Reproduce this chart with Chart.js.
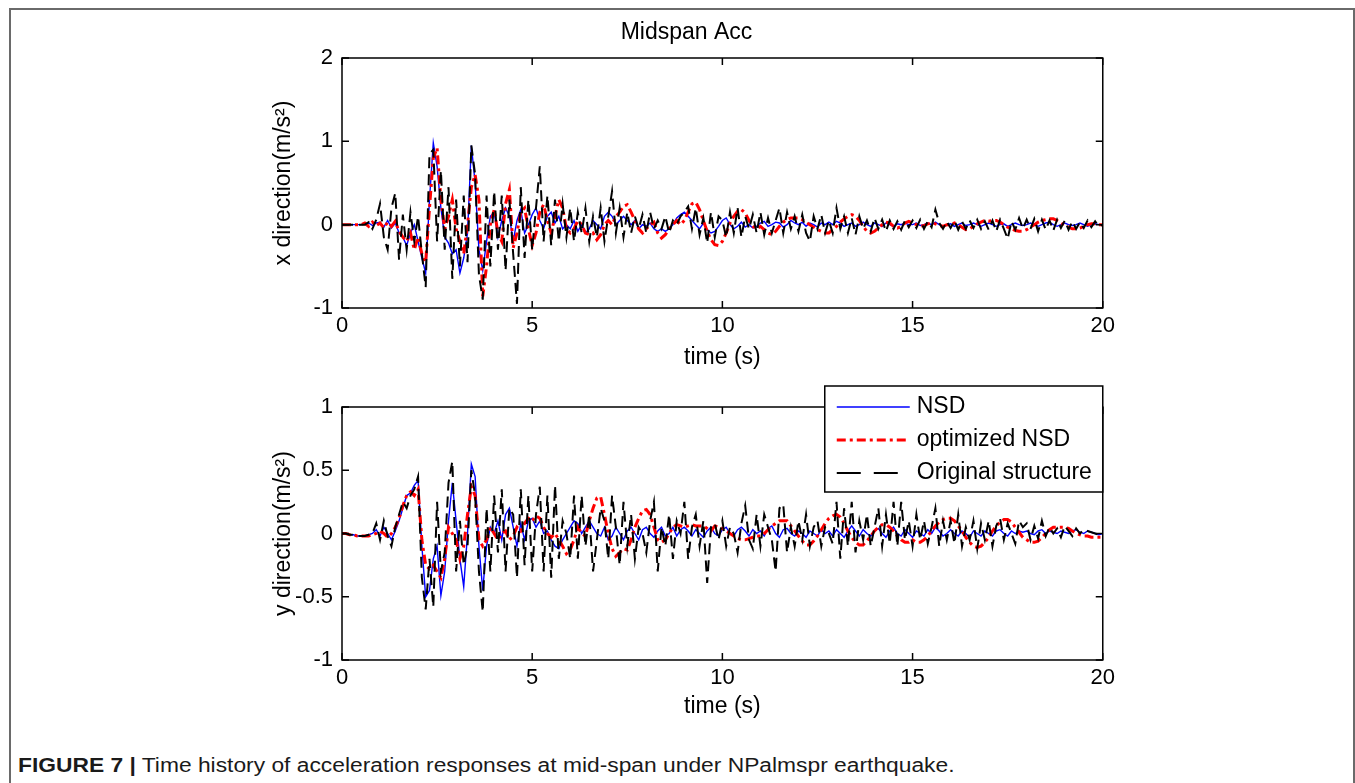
<!DOCTYPE html>
<html>
<head>
<meta charset="utf-8">
<script src="https://cdn.jsdelivr.net/npm/chart.js@4.4.0/dist/chart.umd.min.js"></script>
<style>
  body { margin: 0; background: #fff; width: 1355px; height: 783px; overflow: hidden; position: relative;
         font-family: "Liberation Sans", Arial, sans-serif; }
  .frame { position: absolute; left: 9px; top: 8px; width: 1346px; height: 800px;
           border: 2px solid #6a6a6a; border-bottom: none; box-sizing: border-box; }
  #topChart { position: absolute; left: 270px; top: 0; }
  #botChart { position: absolute; left: 270px; top: 380px; }
  .caption { position: absolute; left: 18px; top: 754px; font-size: 20px; color: #1a1a1a; white-space: nowrap;
             transform: scaleX(1.14); transform-origin: left center; }
  .caption b { font-weight: bold; }
</style>
</head>
<body>
<div class="frame"></div>
<canvas id="topChart" width="850" height="374"></canvas>
<canvas id="botChart" width="850" height="343"></canvas>
<div class="caption"><b>FIGURE 7 |</b> Time history of acceleration responses at mid-span under NPalmspr earthquake.</div>

<script>
// time axis, 0 to 20 s every 0.1 s
const timeS = Array.from({ length: 201 }, (_, i) => i / 10);

// x direction (top plot)
const xNSD = [
  0, 0, 0, 0, 0, 0, 0.01, 0.02, -0.01, 0.02,
  0.03, -0.03, 0.05, -0.04, 0.02, -0.1, -0.15, -0.25, -0.1, 0.0,
  -0.2, -0.4, -0.58, 0.3, 0.98, 0.7, 0.2, -0.15, -0.22, -0.35,
  -0.3, -0.58, -0.4, -0.1, 0.95, 0.5, -0.3, -0.55, -0.2, 0.1,
  0.15, -0.15, 0.05, 0.2, 0.1, -0.2, 0.05, 0.18, -0.1, 0.0,
  0.12, 0.2, 0.05, -0.05, 0.1, 0.15, 0.02, 0.1, -0.05, 0.0,
  -0.05, 0.05, -0.08, 0.0, -0.1, -0.05, 0.05, 0.0, -0.05, 0.1,
  0.15, 0.1, 0.0, 0.05, 0.1, 0.05, 0.0, 0.05, -0.05, 0.0,
  -0.02, 0.02, -0.05, -0.08, -0.05, -0.08, -0.05, 0.0, 0.08, 0.12,
  0.15, 0.1, 0.05, 0.0, -0.05, 0.02, -0.06, -0.1, -0.08, -0.02,
  0.05, 0.08, 0.0, -0.05, -0.02, 0.03, -0.03, 0.0, -0.04, -0.02,
  0.02, 0.04, -0.02, 0.0, 0.03, 0.02, -0.03, 0.0, 0.05, 0.02,
  0.0, 0.03, -0.02, 0.02, 0.0, -0.03, 0.02, 0.0, 0.03, 0.0,
  0.04, 0.02, -0.02, 0.0, 0.02, -0.02, 0.0, 0.03, 0.0, -0.02,
  0.02, 0.0, -0.02, 0.02, 0.0, -0.02, 0.01, 0.0, 0.02, 0.0,
  0.0, 0.02, -0.01, 0.0, 0.02, 0.0, 0.03, 0.0, -0.02, 0.0,
  0.01, -0.02, 0.0, 0.02, -0.01, 0.0, 0.02, 0.0, -0.02, 0.0,
  0.02, 0.0, -0.02, 0.0, 0.01, -0.02, 0.0, 0.02, 0.0, -0.01,
  0.0, 0.02, 0.0, -0.02, 0.0, 0.02, 0.03, 0.0, -0.02, 0.0,
  0.02, 0.0, -0.01, 0.0, 0.02, 0.0, -0.02, 0.0, 0.01, 0.0,
  0
];
const xOpt = [
  0, 0, 0, 0, 0, 0, 0.02, -0.02, 0.03, -0.01,
  0.02, -0.04, 0.03, -0.02, 0.04, -0.08, -0.15, -0.2, -0.1, -0.3,
  -0.15, -0.35, -0.45, 0.2, 0.8, 0.92, 0.3, -0.05, 0.1, 0.3,
  -0.05, -0.2, -0.35, 0.0, 0.45, 0.6, 0.3, -0.86, -0.5, 0.0,
  0.18, -0.1, -0.2, 0.25, 0.42, -0.28, -0.1, 0.15, 0.2, -0.05,
  -0.25, -0.1, 0.15, 0.24, 0.05, -0.1, 0.1, 0.3, 0.2, -0.05,
  -0.1, -0.05, 0.05, 0.0, -0.1, -0.12, -0.1, -0.18, -0.12, 0.0,
  0.05, 0.0, 0.1, 0.15, 0.22, 0.24, 0.15, 0.05, -0.05, -0.1,
  -0.05, 0.0, 0.03, -0.1, -0.16, -0.12, -0.05, 0.0, 0.05, 0.0,
  0.05, 0.15, 0.25, 0.27, 0.18, 0.05, -0.08, -0.18, -0.24, -0.25,
  -0.2, -0.1, 0.02, 0.1, 0.16, 0.18, 0.14, 0.05, -0.02, -0.05,
  -0.02, -0.06, -0.1, -0.12, -0.08, -0.02, 0.03, 0.06, 0.08, 0.08,
  0.08, 0.06, 0.03, 0.0, -0.03, -0.06, -0.08, -0.1, -0.1, -0.06,
  -0.02, 0.03, 0.07, 0.1, 0.12, 0.1, 0.05, -0.02, -0.08, -0.1,
  -0.08, -0.04, 0.0, 0.03, 0.02, -0.02, -0.04, -0.02, 0.02, 0.04,
  0.02, 0.0, -0.02, -0.01, 0.01, 0.02, 0.01, -0.01, -0.02, 0.0,
  0.0, 0.02, 0.0, -0.03, -0.06, -0.05, -0.02, 0.01, 0.03, 0.05,
  0.04, 0.05, 0.05, 0.03, 0.0, -0.03, -0.05, -0.07, -0.08, -0.08,
  -0.06, -0.03, 0.0, 0.03, 0.05, 0.06, 0.07, 0.07, 0.05, 0.02,
  -0.01, -0.03, -0.05, -0.05, -0.04, -0.02, 0.0, 0.01, 0.01, 0.0,
  0
];
const xOrig = [
  0, 0, 0, 0, 0, 0, 0, 0.03, -0.05, 0.06,
  0.25, -0.15, -0.3, 0.2, 0.38, -0.42, 0.12, -0.3, 0.15, -0.2,
  0.1, -0.35, -0.75, 0.85, 0.9, -0.2, 0.65, -0.3, 0.45, -0.65,
  0.3, -0.5, 0.35, -0.45, 0.95, 0.6, -0.6, -0.9, 0.35, -0.5,
  0.4, -0.3, 0.35, -0.55, 0.3, -0.35, -0.95, 0.45, -0.4, 0.3,
  -0.3, 0.2, 0.7, -0.2, 0.35, -0.25, 0.3, -0.2, 0.25, -0.15,
  0.2, -0.2, 0.15, -0.1, 0.2, -0.2, 0.1, -0.15, 0.2, -0.2,
  0.1, 0.4, -0.1, 0.2, -0.15, 0.15, -0.1, 0.1, -0.05, 0.12,
  -0.1, 0.15, -0.05, 0.05, -0.05, 0.1, -0.1, 0.05, 0.0, 0.1,
  0.15, 0.22, -0.05, 0.2, -0.12, 0.08, -0.22, 0.15, -0.15, 0.1,
  0.05, -0.15, 0.15, -0.1, 0.2, -0.15, 0.1, -0.05, 0.12, -0.1,
  0.15, -0.12, 0.08, -0.1, 0.05, 0.2, -0.1, 0.15, -0.05, 0.1,
  -0.08, 0.12, -0.1, -0.2, 0.1, -0.05, 0.12, -0.1, 0.05, -0.1,
  0.2, -0.05, 0.1, -0.1, 0.08, -0.12, 0.1, -0.05, 0.05, -0.08,
  0.08, -0.05, 0.06, -0.08, 0.05, -0.05, 0.04, -0.06, 0.05, -0.03,
  0.05, -0.04, 0.06, -0.05, 0.04, -0.03, 0.18, 0.02, -0.05, 0.04,
  -0.04, 0.05, -0.06, 0.04, -0.05, 0.05, -0.04, 0.06, -0.05, 0.04,
  -0.06, 0.05, -0.08, 0.06, -0.05, -0.17, 0.04, -0.06, 0.08, -0.05,
  0.06, -0.05, 0.07, -0.08, 0.06, -0.06, 0.05, -0.07, 0.06, -0.04,
  0.05, -0.06, 0.04, -0.05, 0.03, -0.04, 0.05, -0.03, 0.04, -0.02,
  0
];

// y direction (bottom plot)
const yNSD = [
  0, 0, -0.01, -0.01, -0.02, -0.02, -0.02, -0.01, 0.0, 0.03,
  -0.02, 0.05, 0.0, -0.05, 0.02, 0.1, 0.2, 0.3, 0.32, 0.38,
  0.42, -0.1, -0.5, -0.45, -0.2, -0.1, -0.49, -0.3, 0.1, 0.4,
  0.1, -0.2, -0.42, 0.0, 0.55, 0.45, -0.1, -0.45, -0.1, 0.05,
  0.0, 0.1, -0.05, 0.15, 0.2, 0.05, -0.1, 0.08, -0.05, 0.1,
  0.12, 0.05, 0.1, 0.0, 0.02, -0.05, -0.1, -0.12, -0.05, 0.0,
  0.05, 0.1, 0.08, 0.0, 0.05, 0.1, 0.05, 0.0, -0.02, 0.05,
  -0.05, -0.02, 0.05, 0.0, -0.05, 0.02, 0.05, 0.0, -0.05, 0.03,
  0.05, 0.0, -0.03, 0.02, 0.05, -0.02, 0.0, 0.05, -0.02, 0.03,
  0.05, 0.02, -0.02, 0.03, 0.0, -0.03, 0.02, 0.05, 0.0, -0.02,
  0.03, 0.05, 0.0, -0.02, 0.03, 0.05, 0.02, -0.02, 0.03, 0.0,
  0.02, -0.02, 0.04, 0.06, 0.0, -0.03, 0.03, 0.04, 0.0, -0.02,
  0.02, 0.0, -0.03, 0.02, 0.0, -0.02, 0.03, 0.0, 0.02, -0.02,
  0.03, 0.0, -0.03, 0.02, 0.06, 0.02, -0.02, 0.03, 0.0, -0.02,
  0.02, 0.04, 0.0, -0.03, 0.02, 0.05, 0.0, -0.02, 0.03, 0.0,
  -0.03, 0.02, 0.0, -0.02, 0.03, 0.0, 0.05, 0.02, -0.02, 0.0,
  0.03, 0.0, -0.02, 0.02, 0.0, -0.03, 0.02, 0.0, -0.02, 0.02,
  0.0, -0.02, 0.02, 0.03, 0.0, -0.02, 0.02, 0.0, 0.02, 0.01,
  0.02, 0.0, -0.01, 0.02, 0.03, 0.0, 0.02, 0.01, 0.0, 0.02,
  0.01, 0.0, 0.02, 0.03, 0.01, 0.0, 0.02, 0.01, 0.0, -0.01,
  0
];
const yOpt = [
  0, 0, -0.01, -0.01, -0.02, -0.02, -0.02, -0.02, -0.01, 0.0,
  0.02, 0.0, -0.03, 0.0, 0.05, 0.12, 0.22, 0.3, 0.33, 0.3,
  0.35, -0.05, -0.25, -0.28, -0.25, -0.3, -0.35, -0.2, 0.05, 0.0,
  -0.05, -0.2, -0.1, 0.15, 0.37, 0.3, -0.05, -0.1, -0.05, 0.05,
  0.0, -0.05, 0.0, 0.02, -0.05, -0.02, 0.05, 0.02, 0.08, 0.12,
  0.1, 0.14, 0.12, 0.05, 0.0, -0.03, 0.0, -0.05, -0.1, -0.16,
  -0.13, -0.05, 0.05, 0.0, -0.02, 0.1, 0.2, 0.28, 0.29, 0.15,
  0.0, -0.12, -0.18, -0.15, -0.12, -0.13, -0.05, 0.05, 0.12, 0.18,
  0.19, 0.15, 0.05, -0.05, -0.07, -0.05, 0.0, 0.05, 0.07, 0.06,
  0.05, 0.06, 0.07, 0.06, 0.06, 0.06, 0.04, 0.02, 0.06, 0.05,
  0.04, 0.02, 0.0, -0.02, -0.04, -0.05, -0.05, -0.04, -0.03, -0.02,
  -0.02, 0.0, 0.03, 0.06, 0.08, 0.1, 0.1, 0.1, 0.06, 0.02,
  -0.02, -0.06, -0.09, -0.09, -0.06, -0.02, 0.03, 0.08, 0.12, 0.14,
  0.15, 0.13, 0.08, 0.02, -0.03, -0.07, -0.09, -0.09, -0.06, -0.02,
  0.02, 0.05, 0.07, 0.07, 0.05, 0.02, -0.02, -0.05, -0.07, -0.07,
  -0.05, -0.07, -0.07, -0.05, -0.02, 0.02, 0.06, 0.09, 0.11, 0.12,
  0.12, 0.1, 0.06, 0.02, -0.03, -0.07, -0.1, -0.11, -0.1, -0.07,
  -0.03, 0.02, 0.06, 0.09, 0.11, 0.11, 0.09, 0.05, 0.01, -0.03,
  -0.05, -0.07, -0.07, -0.06, -0.03, 0.0, 0.03, 0.05, 0.05, 0.05,
  0.05, 0.04, 0.02, 0.0, -0.01, -0.02, -0.02, -0.03, -0.03, -0.03,
  -0.03
];
const yOrig = [
  0, 0, -0.01, -0.01, -0.02, -0.02, -0.02, -0.01, 0.0, 0.08,
  -0.05, 0.1, -0.02, -0.1, 0.05, 0.15, 0.25, 0.2, 0.3, 0.35,
  0.45, -0.35, -0.6, -0.2, -0.58, 0.25, -0.3, -0.15, 0.4, 0.57,
  -0.3, 0.1, -0.25, -0.1, 0.5, 0.3, -0.3, -0.62, 0.2, -0.3,
  0.3, -0.15, 0.35, -0.3, 0.2, 0.15, -0.35, 0.35, -0.25, 0.3,
  -0.3, 0.15, 0.37, -0.3, 0.3, -0.35, 0.38, -0.2, 0.1, 0.0,
  -0.2, 0.3, -0.2, 0.3, -0.1, 0.15, -0.3, -0.05, 0.2, 0.1,
  -0.2, 0.3, 0.05, -0.25, 0.25, -0.1, 0.15, -0.2, 0.05, 0.0,
  -0.15, 0.1, 0.25, -0.3, 0.05, -0.1, 0.15, -0.2, 0.1, 0.0,
  0.25, -0.2, 0.05, 0.15, -0.1, 0.1, -0.39, 0.05, 0.08, -0.05,
  0.1, -0.1, 0.05, 0.0, -0.15, 0.08, 0.22, -0.05, -0.12, 0.15,
  -0.1, 0.15, 0.05, -0.05, -0.3, 0.2, 0.23, -0.15, 0.05, -0.1,
  0.1, -0.05, 0.15, -0.1, 0.05, 0.1, -0.1, 0.05, 0.0, -0.08,
  0.25, -0.2, 0.2, -0.1, 0.25, -0.15, 0.1, -0.05, 0.15, -0.1,
  0.05, 0.2, -0.1, 0.15, -0.08, 0.25, -0.1, 0.25, -0.05, 0.1,
  -0.1, 0.15, -0.05, 0.1, -0.08, 0.05, 0.2, -0.1, 0.1, -0.05,
  0.1, -0.08, 0.15, -0.1, 0.05, -0.05, 0.1, -0.12, 0.08, -0.05,
  0.1, -0.1, 0.06, 0.12, -0.05, 0.08, 0.0, -0.08, 0.1, 0.05,
  0.08, -0.05, 0.06, -0.04, 0.1, -0.02, 0.05, 0.0, 0.04, -0.03,
  0.06, 0.02, -0.02, 0.04, 0.0, 0.03, 0.02, 0.01, 0.0, -0.01,
  0
];

const FONT = '"Liberation Sans", Arial, sans-serif';

// box round the plot and inward tick marks on all four sides, like matlab
const matlabAxes = {
  id: 'matlabAxes',
  afterDatasetsDraw(chart) {
    const { ctx, chartArea: a, scales: { x, y } } = chart;
    const len = 7;
    ctx.save();
    ctx.strokeStyle = '#000';
    ctx.lineWidth = 1.5;
    ctx.strokeRect(a.left, a.top, a.right - a.left, a.bottom - a.top);
    ctx.beginPath();
    x.ticks.forEach(t => {
      const px = x.getPixelForValue(t.value);
      ctx.moveTo(px, a.bottom); ctx.lineTo(px, a.bottom - len);
      ctx.moveTo(px, a.top); ctx.lineTo(px, a.top + len);
    });
    y.ticks.forEach(t => {
      const py = y.getPixelForValue(t.value);
      ctx.moveTo(a.left, py); ctx.lineTo(a.left + len, py);
      ctx.moveTo(a.right, py); ctx.lineTo(a.right - len, py);
    });
    ctx.stroke();
    ctx.restore();
  }
};

// boxed legend sitting over the top right corner of the lower plot
const boxLegend = {
  id: 'boxLegend',
  afterDraw(chart) {
    const { ctx, chartArea: a } = chart;
    const w = 278, h = 106;
    const left = a.right - w, top = a.top - 21;
    ctx.save();
    ctx.fillStyle = '#fff';
    ctx.fillRect(left, top, w, h);
    ctx.strokeStyle = '#000';
    ctx.lineWidth = 1.5;
    ctx.strokeRect(left, top, w, h);
    ctx.font = '23px ' + FONT;
    ctx.textBaseline = 'middle';
    chart.data.datasets.forEach((ds, i) => {
      const cy = top + 21 + i * 33;
      ctx.beginPath();
      ctx.strokeStyle = ds.borderColor;
      ctx.lineWidth = ds.borderWidth;
      ctx.setLineDash(ds.legendDash || ds.borderDash || []);
      ctx.moveTo(left + 12, cy);
      ctx.lineTo(left + 85, cy);
      ctx.stroke();
      ctx.setLineDash([]);
      ctx.fillStyle = '#000';
      ctx.fillText(ds.label, left + 92, cy);
    });
    ctx.restore();
  }
};

function series(values) {
  return timeS.map((t, i) => ({ x: t, y: values[i] }));
}

function makeChart(id, nsd, opt, orig, yMin, yMax, yStep, yTitle, extra) {
  const tickFont = { family: FONT, size: 22 };
  const labelFont = { family: FONT, size: 23 };
  const cfg = {
    type: 'line',
    data: {
      datasets: [
        { label: 'NSD', data: series(nsd), borderColor: '#0000ff', borderWidth: 1.4, order: 2 },
        { label: 'optimized NSD', data: series(opt), borderColor: '#ff0000', borderWidth: 3,
          borderDash: [9, 4, 3, 4], order: 1 },
        { label: 'Original structure', data: series(orig), borderColor: '#000000', borderWidth: 2,
          borderDash: [11, 6], legendDash: [24, 13], order: 0 }
      ]
    },
    options: {
      responsive: false,
      animation: false,
      events: [],
      layout: { padding: { left: 0, right: 17, top: extra.padTop, bottom: 0 } },
      elements: { point: { radius: 0 }, line: { tension: 0, fill: false } },
      plugins: {
        legend: { display: false },
        tooltip: { enabled: false },
        title: extra.title
      },
      scales: {
        x: {
          type: 'linear', min: 0, max: 20,
          ticks: { stepSize: 5, padding: 5, color: '#000', font: tickFont, maxRotation: 0 },
          grid: { display: false, drawTicks: false },
          border: { display: false },
          title: { display: true, text: 'time (s)', color: '#000', font: labelFont, padding: { top: 0, bottom: 3 } },
          afterFit(s) { s.height = extra.xHeight; }
        },
        y: {
          min: yMin, max: yMax,
          ticks: { stepSize: yStep, padding: 9, color: '#000', font: tickFont, callback: v => String(v) },
          grid: { display: false, drawTicks: false },
          border: { display: false },
          title: { display: true, text: yTitle, color: '#000', font: labelFont, padding: { top: 0, bottom: 0 } },
          afterFit(s) { s.width = 72; }
        }
      }
    },
    plugins: extra.legend ? [matlabAxes, boxLegend] : [matlabAxes]
  };
  return new Chart(document.getElementById(id), cfg);
}

makeChart('topChart', xNSD, xOpt, xOrig, -1, 2, 1, 'x direction(m/s²)', {
  padTop: 0,
  xHeight: 66,
  legend: false,
  title: { display: true, text: 'Midspan Acc', color: '#000', font: { family: FONT, size: 23, weight: 'normal' },
           padding: { top: 19, bottom: 11.4 } }
});

makeChart('botChart', yNSD, yOpt, yOrig, -1, 1, 0.5, 'y direction(m/s²)', {
  padTop: 27,
  xHeight: 63,
  legend: true,
  title: { display: false }
});
</script>
</body>
</html>
